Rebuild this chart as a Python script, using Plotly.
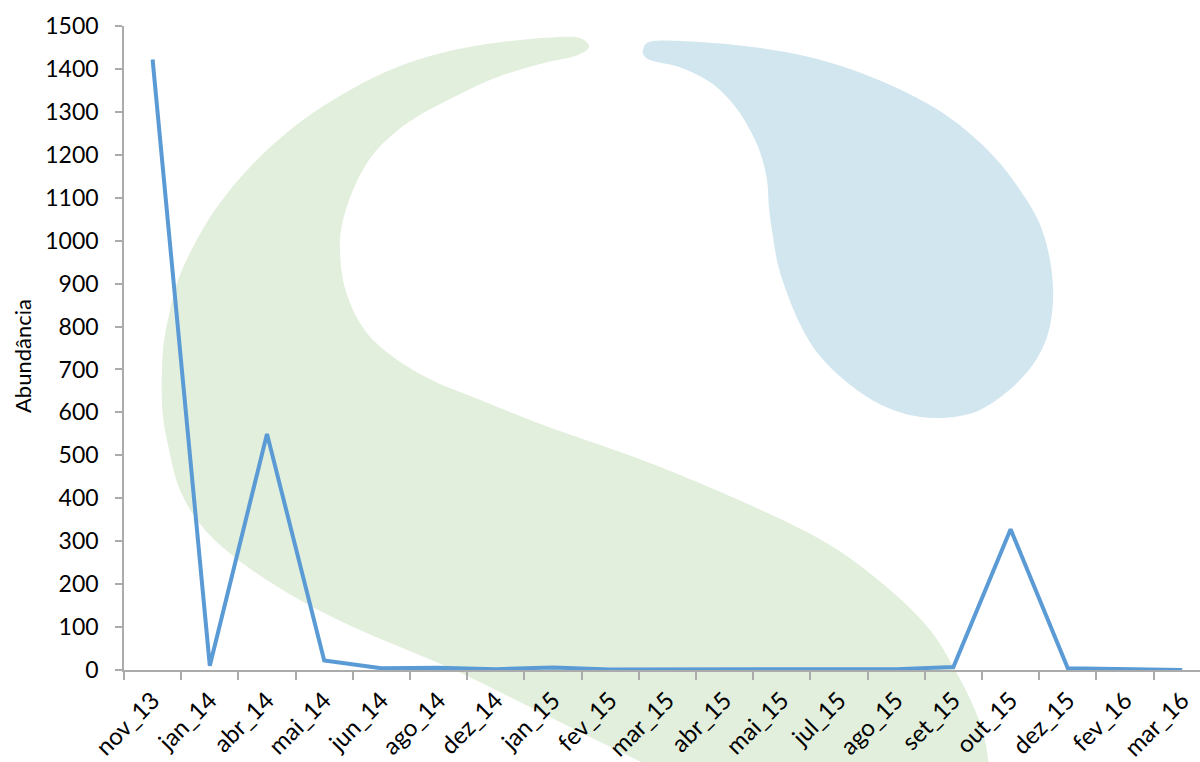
import plotly.graph_objects as go

# ---------------- data ----------------
categories = ["nov_13", "jan_14", "abr_14", "mai_14", "jun_14", "ago_14", "dez_14",
              "jan_15", "fev_15", "mar_15", "abr_15", "mai_15", "jul_15", "ago_15",
              "set_15", "out_15", "dez_15", "fev_16", "mar_16"]
abundancia = [1422, 10, 550, 22, 4, 5, 2, 6, 1, 1, 1, 1, 1, 2, 7, 328, 4, 1, 0]
y_ticks = list(range(0, 1501, 100))
y_title = "Abundância"

# ---------------- layout constants ----------------
W, H = 1200, 762
L, R, T, B = 124, 0, 26, 92
PW, PH = W - L - R, H - T - B
FONT = "Lato"


def to_paper(pts):
    return [((x - L) / PW, (H - B - y) / PH) for x, y in pts]


def smooth_path(pts):
    """Closed Catmull-Rom spline through pixel points -> SVG path in paper units."""
    p = to_paper(pts)
    n = len(p)
    d = "M {:.5f},{:.5f}".format(*p[0])
    for i in range(n):
        p0, p1, p2, p3 = p[i - 1], p[i], p[(i + 1) % n], p[(i + 2) % n]
        c1 = (p1[0] + (p2[0] - p0[0]) / 6, p1[1] + (p2[1] - p0[1]) / 6)
        c2 = (p2[0] - (p3[0] - p1[0]) / 6, p2[1] - (p3[1] - p1[1]) / 6)
        d += " C {:.5f},{:.5f} {:.5f},{:.5f} {:.5f},{:.5f}".format(*c1, *c2, *p2)
    return d + " Z"


# decorative watermark outlines (pixel positions)
green_outline = [
    (589, 47), (575, 56), (540, 64), (495, 78), (450, 99), (420, 115), (398, 130),
    (375, 152), (360, 175), (348, 203), (341, 230), (340, 253), (343, 280), (350, 303),
    (360, 323), (373, 340), (392, 356), (413, 370), (440, 384), (473, 397), (515, 414),
    (557, 430), (650, 463), (750, 505), (830, 545), (890, 590), (930, 630), (955, 670),
    (975, 710), (986, 745), (990, 790), (985, 830), (850, 840), (720, 810), (660, 772),
    (637, 760), (590, 737), (520, 702), (450, 668), (360, 630), (300, 600), (245, 565),
    (205, 530), (180, 490), (167, 440), (162, 403), (163, 350), (169, 315), (177, 283),
    (193, 247), (217, 207), (250, 167), (290, 130), (333, 100), (383, 73), (430, 56),
    (475, 46), (520, 40), (560, 37), (580, 38),
]
blue_outline = [
    (643, 50), (653, 41), (700, 42), (753, 47), (805, 56), (853, 70), (897, 88),
    (935, 108), (968, 132), (997, 160), (1020, 190), (1039, 222), (1049, 255),
    (1053, 287), (1052, 313), (1047, 337), (1036, 360), (1020, 380), (1002, 396),
    (980, 410), (960, 416), (937, 418), (915, 416), (893, 410), (872, 400), (853, 387),
    (832, 369), (813, 347), (798, 320), (787, 293), (778, 265), (773, 237), (769, 208),
    (767, 180), (760, 152), (750, 130), (737, 109), (720, 90), (705, 79), (687, 70),
    (672, 65), (657, 62), (646, 58),
]

fig = go.Figure()
fig.add_trace(go.Scatter(
    x=categories, y=abundancia, mode="lines",
    line=dict(color="#5B9BD5", width=4),
    hoverinfo="x+y", showlegend=False,
))

fig.add_shape(type="path", xref="paper", yref="paper", path=smooth_path(green_outline),
              fillcolor="rgb(226,239,220)", line=dict(width=0), layer="below")
fig.add_shape(type="path", xref="paper", yref="paper", path=smooth_path(blue_outline),
              fillcolor="rgb(210,230,240)", line=dict(width=0), layer="below")

axis_gray = "#ABABAB"
fig.update_layout(
    width=W, height=H,
    margin=dict(l=L, r=R, t=T, b=B, pad=0),
    paper_bgcolor="white", plot_bgcolor="rgba(0,0,0,0)",
    font=dict(family=FONT, size=22, color="#000000"),
    showlegend=False,
    xaxis=dict(
        type="category", categoryorder="array", categoryarray=categories,
        range=[-0.5, -0.5 + PW / 57.2],
        showline=True, linecolor=axis_gray, linewidth=1.5,
        ticks="outside", ticklen=8, tickcolor=axis_gray, tickwidth=1.5,
        tickson="boundaries", tickangle=-45, showgrid=False, zeroline=False,
        ticklabelstandoff=5,
        tickfont=dict(family=FONT, size=24, color="#000000"),
    ),
    yaxis=dict(
        range=[0, 1500], tickvals=y_ticks,
        showline=True, linecolor=axis_gray, linewidth=1.5,
        ticks="outside", ticklen=7, tickcolor=axis_gray, tickwidth=1.5,
        showgrid=False, zeroline=False, ticklabelstandoff=12,
        tickfont=dict(family=FONT, size=23, color="#000000"),
    ),
    annotations=[dict(
        text=y_title, textangle=-90, xref="paper", yref="paper",
        x=(22 - L) / PW, y=(H - B - 356) / PH, showarrow=False,
        font=dict(family=FONT, size=22, color="#000000"),
        xanchor="center", yanchor="middle",
    )],
)

fig.write_html("out.html")
